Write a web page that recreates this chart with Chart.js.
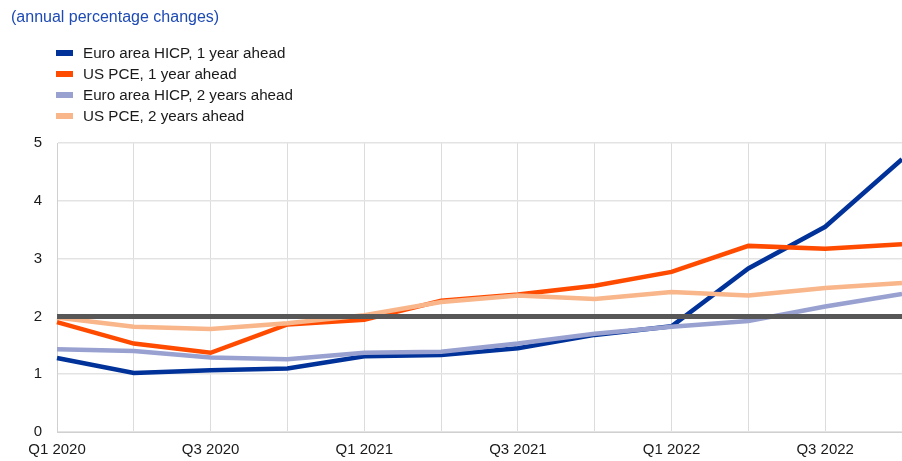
<!DOCTYPE html>
<html>
<head>
<meta charset="utf-8">
<script src="https://cdn.jsdelivr.net/npm/chart.js@4"></script>
<style>
  html, body { margin: 0; padding: 0; background: #fff; overflow: hidden; }
  #wrap { position: relative; width: 902px; height: 461px; font-family: "Liberation Sans", Arial, sans-serif; }
  #title { position: absolute; left: 11px; top: 8px; font-size: 16px; color: #1E4AB4; white-space: nowrap; }
  #legend { position: absolute; left: 56px; top: 41.5px; }
  .item { position: relative; height: 21.2px; font-size: 15.2px; color: #1a1a1a; white-space: nowrap; line-height: 21.2px; }
  .sw { position: absolute; left: 0; top: 8px; width: 17px; height: 6px; }
  .lbl { position: absolute; left: 27px; top: 0; }
  canvas { position: absolute; left: 0; top: 0; }
</style>
</head>
<body>
<div id="wrap">
  <canvas id="c" width="902" height="461"></canvas>
  <div id="title">(annual percentage changes)</div>
  <div id="legend"></div>
</div>
<script>
const categories = ["Q1 2020","Q2 2020","Q3 2020","Q4 2020","Q1 2021","Q2 2021","Q3 2021","Q4 2021","Q1 2022","Q2 2022","Q3 2022","Q4 2022"];
const seriesNames = ["Euro area HICP, 1 year ahead","US PCE, 1 year ahead","Euro area HICP, 2 years ahead","US PCE, 2 years ahead"];
const euroHicp1y = [1.28,1.02,1.07,1.10,1.31,1.33,1.45,1.68,1.83,2.83,3.55,4.72];
const usPce1y    = [1.90,1.53,1.37,1.86,1.94,2.27,2.38,2.53,2.77,3.22,3.17,3.25];
const euroHicp2y = [1.43,1.40,1.29,1.26,1.37,1.39,1.53,1.70,1.82,1.92,2.17,2.39];
const usPce2y    = [1.98,1.82,1.78,1.88,2.02,2.25,2.36,2.30,2.42,2.36,2.49,2.58];
const targetLine = [2,2,2,2,2,2,2,2,2,2,2,2];
const yTicks = [0,1,2,3,4,5];

const colors = ["#003299","#FF4B00","#98A1D0","#F8B68A"];
const seriesData = [euroHicp1y, usPce1y, euroHicp2y, usPce2y];

// HTML legend
const leg = document.getElementById('legend');
seriesNames.forEach((n, i) => {
  const d = document.createElement('div'); d.className = 'item';
  const s = document.createElement('span'); s.className = 'sw'; s.style.background = colors[i];
  const t = document.createElement('span'); t.className = 'lbl'; t.textContent = n;
  d.appendChild(s); d.appendChild(t); leg.appendChild(d);
});

const datasets = seriesData.map((d, i) => ({
  label: seriesNames[i],
  data: d,
  borderColor: colors[i],
  backgroundColor: colors[i],
  borderWidth: 4.5,
  pointRadius: 0,
  tension: 0,
  fill: false,
  order: 4 - i
}));
datasets.push({
  label: "target",
  data: targetLine,
  borderColor: "#575757",
  borderWidth: 5,
  pointRadius: 0,
  fill: false,
  order: 0
});

new Chart(document.getElementById('c'), {
  type: 'line',
  data: { labels: categories, datasets },
  options: {
    responsive: false,
    animation: false,
    devicePixelRatio: 1,
    layout: { padding: { top: 143, right: 0, left: 0, bottom: 0 } },
    plugins: { legend: { display: false }, tooltip: { enabled: false }, title: { display: false } },
    scales: {
      x: {
        offset: false,
        grid: { color: "#dcdcdc", lineWidth: 1, drawTicks: false },
        border: { color: "#d0d0d0" },
        afterFit: (s) => { s.height = 29; s.paddingRight = 0; s.paddingLeft = 0; },
        ticks: {
          autoSkip: false, maxRotation: 0, padding: 9,
          color: "#1a1a1a",
          font: { family: "Liberation Sans", size: 15 },
          callback: function(v, i) { return i % 2 === 0 ? categories[i] : ""; }
        }
      },
      y: {
        min: 0, max: 5,
        afterFit: (s) => { s.width = 57; },
        afterBuildTicks: (s) => { s.ticks = yTicks.map(v => ({ value: v })); },
        grid: { color: "#e3e3e3", lineWidth: 1.5, drawTicks: false },
        border: { color: "#d0d0d0" },
        ticks: {
          padding: 15,
          color: "#1a1a1a",
          font: { family: "Liberation Sans", size: 15 }
        }
      }
    }
  }
});
</script>
</body>
</html>
